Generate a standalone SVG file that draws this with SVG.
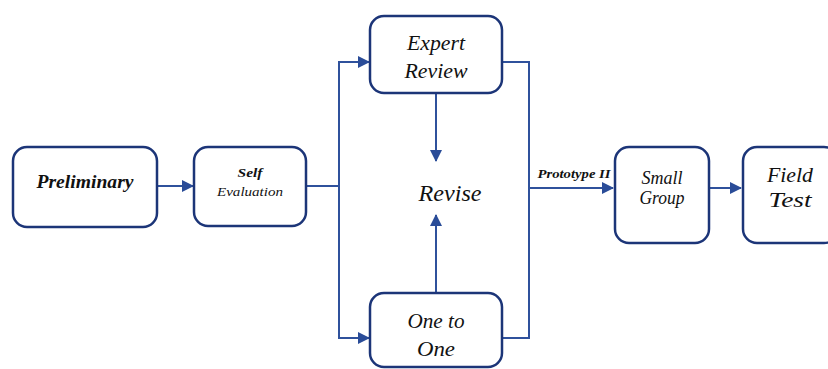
<svg xmlns="http://www.w3.org/2000/svg" width="828" height="369" viewBox="0 0 828 369">
<style>
.box{fill:#fff;stroke:#1c3578;stroke-width:2.5}
.ln{fill:none;stroke:#2f519c;stroke-width:2}
text{font-family:'Liberation Serif','DejaVu Serif',serif;font-style:italic;fill:#111;text-anchor:middle}
</style>
<defs>
<marker id="ahs" markerWidth="12" markerHeight="12" refX="11" refY="6" orient="auto" markerUnits="userSpaceOnUse">
<path d="M0,0 L12,6 L0,12 Z" fill="#2a4c98"/>
</marker>
</defs>
<rect width="828" height="369" fill="#fff"/>
<g id="connectors">
<line class="ln" x1="157" y1="186" x2="193" y2="186" marker-end="url(#ahs)"/>
<polyline class="ln" points="306,186 339,186"/>
<polyline class="ln" points="339,338 339,62 369,62" marker-end="url(#ahs)"/>
<polyline class="ln" points="339,300 339,338 369,338" marker-end="url(#ahs)"/>
<line class="ln" x1="436" y1="94" x2="436" y2="161" marker-end="url(#ahs)"/>
<line class="ln" x1="436" y1="292" x2="436" y2="215" marker-end="url(#ahs)"/>
<polyline class="ln" points="502,62 529,62 529,338 502,338"/>
<line class="ln" x1="529" y1="188" x2="613" y2="188" marker-end="url(#ahs)"/>
<line class="ln" x1="709" y1="188" x2="741" y2="188" marker-end="url(#ahs)"/>
<text x="574" y="178" font-size="12.5" font-weight="bold" textLength="73" lengthAdjust="spacingAndGlyphs">Prototype II</text>
</g>
<g id="preliminary">
<rect class="box" x="13" y="147" width="144" height="80" rx="14"/>
<text x="85" y="188" font-size="18" font-weight="bold" textLength="97" lengthAdjust="spacingAndGlyphs">Preliminary</text>
</g>
<g id="self-evaluation">
<rect class="box" x="194" y="147" width="112" height="79" rx="14"/>
<text x="250" y="177" font-size="13" font-weight="bold" textLength="25" lengthAdjust="spacingAndGlyphs">Self</text>
<text x="250" y="196" font-size="13" textLength="66" lengthAdjust="spacingAndGlyphs">Evaluation</text>
</g>
<g id="expert-review">
<rect class="box" x="370" y="16" width="132" height="77" rx="14"/>
<text x="436" y="50" font-size="20" textLength="58" lengthAdjust="spacingAndGlyphs">Expert</text>
<text x="436" y="78" font-size="20" textLength="63" lengthAdjust="spacingAndGlyphs">Review</text>
</g>
<g id="revise">
<text x="450" y="201" font-size="23" textLength="63" lengthAdjust="spacingAndGlyphs">Revise</text>
</g>
<g id="one-to-one">
<rect class="box" x="370" y="293" width="132" height="74" rx="14"/>
<text x="436" y="328" font-size="20" textLength="57" lengthAdjust="spacingAndGlyphs">One to</text>
<text x="436" y="356" font-size="20" textLength="38" lengthAdjust="spacingAndGlyphs">One</text>
</g>
<g id="small-group">
<rect class="box" x="615" y="147" width="94" height="96" rx="14"/>
<text x="662" y="184" font-size="18" textLength="41" lengthAdjust="spacingAndGlyphs">Small</text>
<text x="662" y="204" font-size="18" textLength="45" lengthAdjust="spacingAndGlyphs">Group</text>
</g>
<g id="field-test">
<rect class="box" x="743" y="147" width="95" height="96" rx="14"/>
<text x="790" y="182" font-size="21" textLength="46" lengthAdjust="spacingAndGlyphs">Field</text>
<text x="790" y="207" font-size="21" textLength="43" lengthAdjust="spacingAndGlyphs">Test</text>
</g>
</svg>
